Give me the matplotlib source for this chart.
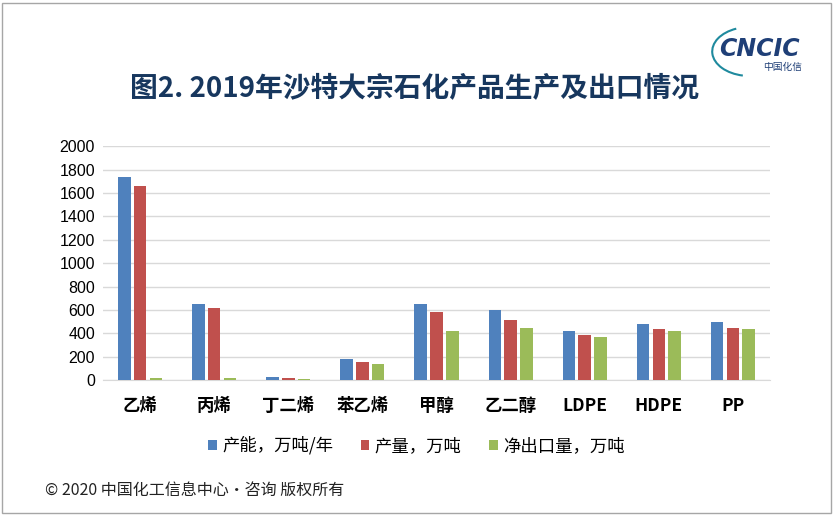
import matplotlib
matplotlib.use("Agg")
import numpy as np
import matplotlib.pyplot as plt
from matplotlib.patches import Rectangle, Arc

plt.rcParams['font.family'] = ['Noto Sans CJK SC', 'DejaVu Sans']

# data
categories = ["乙烯", "丙烯", "丁二烯", "苯乙烯", "甲醇", "乙二醇", "LDPE", "HDPE", "PP"]
capacity = [1740, 650, 25, 182, 650, 600, 420, 480, 497]
output = [1660, 615, 17, 157, 582, 514, 386, 437, 446]
net_export = [17, 15, 8, 140, 421, 446, 369, 420, 437]
series_names = ["产能，万吨/年", "产量，万吨", "净出口量，万吨"]
colors = ["#4F81BD", "#C0504D", "#9BBB59"]

fig = plt.figure(figsize=(8.33, 5.15), dpi=100)
ax = fig.add_axes([0.124, 0.262, 0.8, 0.454])

x = np.arange(len(categories))
width = 0.165
step = 0.215
for i, (vals, name, c) in enumerate(zip([capacity, output, net_export], series_names, colors)):
    ax.bar(x + (i - 1) * step, vals, width, color=c, label=name, zorder=3)

ax.set_xlim(-0.5, len(categories) - 0.5)
ax.set_ylim(0, 2000)
ax.set_yticks(range(0, 2001, 200))
ax.grid(axis="y", color="#D9D9D9", linewidth=1, zorder=0)
for s in ["top", "right", "left"]:
    ax.spines[s].set_visible(False)
ax.spines["bottom"].set_color("#D9D9D9")
ax.tick_params(axis="both", length=0)
ax.tick_params(axis="y", labelsize=11.5, pad=6)
for lbl in ax.get_yticklabels():
    lbl.set_family("Liberation Sans")
ax.set_xticks(x)
ax.set_xticklabels(categories, fontsize=12.5, fontweight="bold")
ax.tick_params(axis="x", pad=12)

fig.legend(loc="center", bbox_to_anchor=(0.5, 0.135), ncol=3, frameon=False,
           fontsize=12.5, handlelength=0.5, handleheight=0.5, handletextpad=0.3,
           columnspacing=1.6)

fig.text(0.498, 0.828, "图2. 2019年沙特大宗石化产品生产及出口情况", ha="center", va="center",
         fontsize=20, fontweight="bold", color="#17375E")
fig.text(0.054, 0.048, "© 2020 中国化工信息中心·咨询 版权所有", ha="left", va="center",
         fontsize=11.5, color="#222222")

# logo
fig.text(0.912, 0.905, "CNCIC", ha="center", va="center", fontsize=17, fontweight="bold",
         fontstyle="italic", color="#1F3F77", family="DejaVu Sans")
fig.text(0.94, 0.87, "中国化信", ha="center", va="center", fontsize=7, color="#1F3F77")
fig.patches.append(Arc((0.9, 0.9), 0.09, 0.095, theta1=110, theta2=260,
                       transform=fig.transFigure, color="#1F8A9E", linewidth=1.5))

fig.patches.append(Rectangle((0.002, 0.004), 0.995, 0.99, transform=fig.transFigure,
                             fill=False, edgecolor="#A6A6A6", linewidth=1))

fig.savefig("out.png", dpi=100)
